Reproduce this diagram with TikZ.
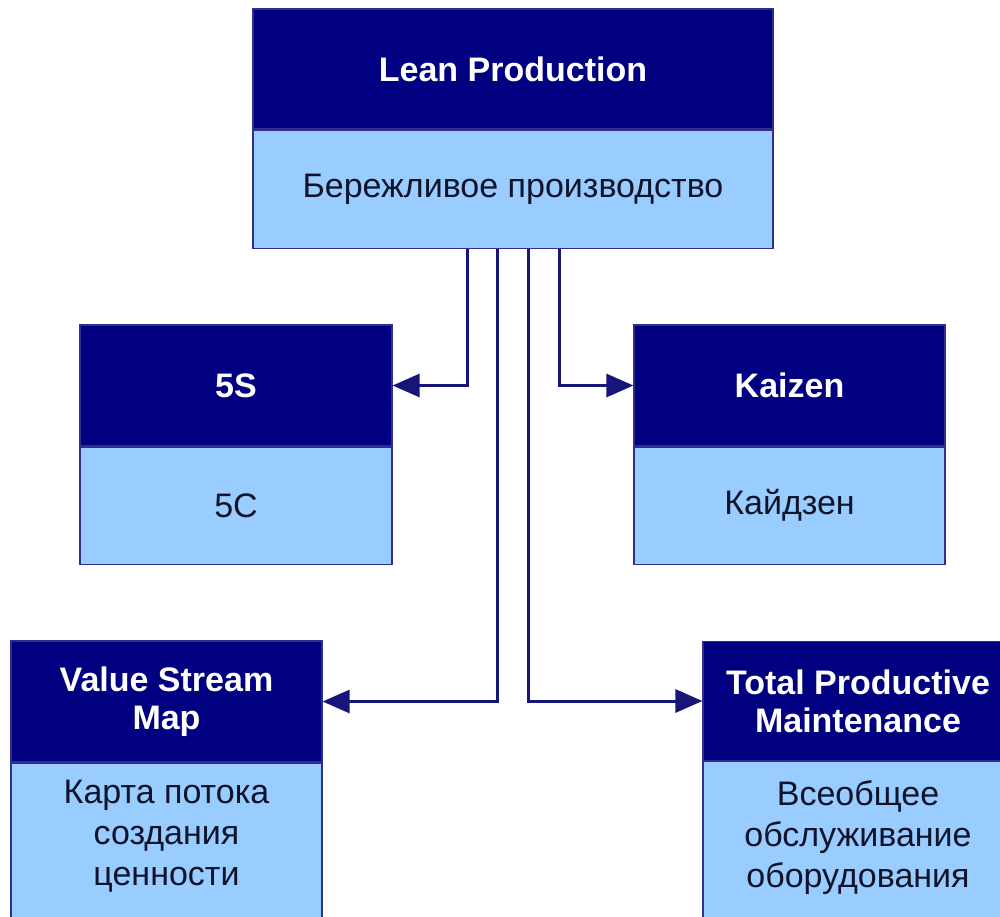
\documentclass[tikz,border=0pt]{standalone}
\usepackage{fontspec}
\setmainfont{Liberation Sans}
\usetikzlibrary{arrows.meta}
\definecolor{hdr}{HTML}{000080}
\definecolor{bdy}{HTML}{99CCFF}
\definecolor{edge}{HTML}{2E2E8F}
\definecolor{wire}{HTML}{15157A}
\definecolor{ink}{HTML}{10142A}
\begin{document}
\begin{tikzpicture}[x=1pt,y=-1pt,
  head/.style={draw=edge, line width=1.2pt, fill=hdr, text=white,
    font=\fontsize{34}{38}\selectfont\bfseries, align=center, inner sep=0pt},
  body/.style={draw=edge, line width=1.2pt, fill=bdy, text=ink,
    font=\fontsize{34}{40}\selectfont, align=center, inner sep=0pt},
  bodytext/.style={text=ink, font=\fontsize{34}{41}\selectfont, align=center, inner sep=0pt},
  wirearrow/.style={draw=wire, line width=3pt, -{Triangle[length=27pt,width=23pt]}}]
\useasboundingbox (0,0) rectangle (1000,916);
\clip (0,0) rectangle (1000,916);

% root concept
\node[head, minimum width=520pt, minimum height=120pt] (lean) at (513,69) {Lean Production};
\node[body, minimum width=520pt, minimum height=118pt, anchor=north] (leanb) at (lean.south) {Бережливое производство};

% 5S
\node[head, minimum width=312pt, minimum height=121pt] (fives) at (236,385.5) {5S};
\node[body, minimum width=312pt, minimum height=117pt, anchor=north] (fivesb) at (fives.south) {5C};

% Kaizen
\node[head, minimum width=311pt, minimum height=121pt] (kaizen) at (789.5,385.5) {Kaizen};
\node[body, minimum width=311pt, minimum height=117pt, anchor=north] (kaizenb) at (kaizen.south) {Кайдзен};

% Value Stream Map
\node[head, minimum width=311pt, minimum height=121pt] (vsm) at (166.5,701.5) {Value Stream\\Map};
\node[body, minimum width=311pt, minimum height=175pt, anchor=north] (vsmb) at (vsm.south) {};
\node[bodytext] (vsmt) at (166.5,836) {Карта потока\\создания\\ценности};

% Total Productive Maintenance
\node[head, minimum width=310pt, minimum height=119pt] (tpm) at (858,701) {Total Productive\\Maintenance};
\node[body, minimum width=310pt, minimum height=175pt, anchor=north] (tpmb) at (tpm.south) {};
\node[bodytext] (tpmt) at (858,838) {Всеобщее\\обслуживание\\оборудования};

% connectors
\draw[wirearrow] ([xshift=-46pt]leanb.south) |- (fives.east);
\draw[wirearrow] ([xshift=46pt]leanb.south) |- (kaizen.west);
\draw[wirearrow] ([xshift=-16pt]leanb.south) |- (vsm.east);
\draw[wirearrow] ([xshift=15pt]leanb.south) |- (tpm.west);
\end{tikzpicture}
\end{document}
